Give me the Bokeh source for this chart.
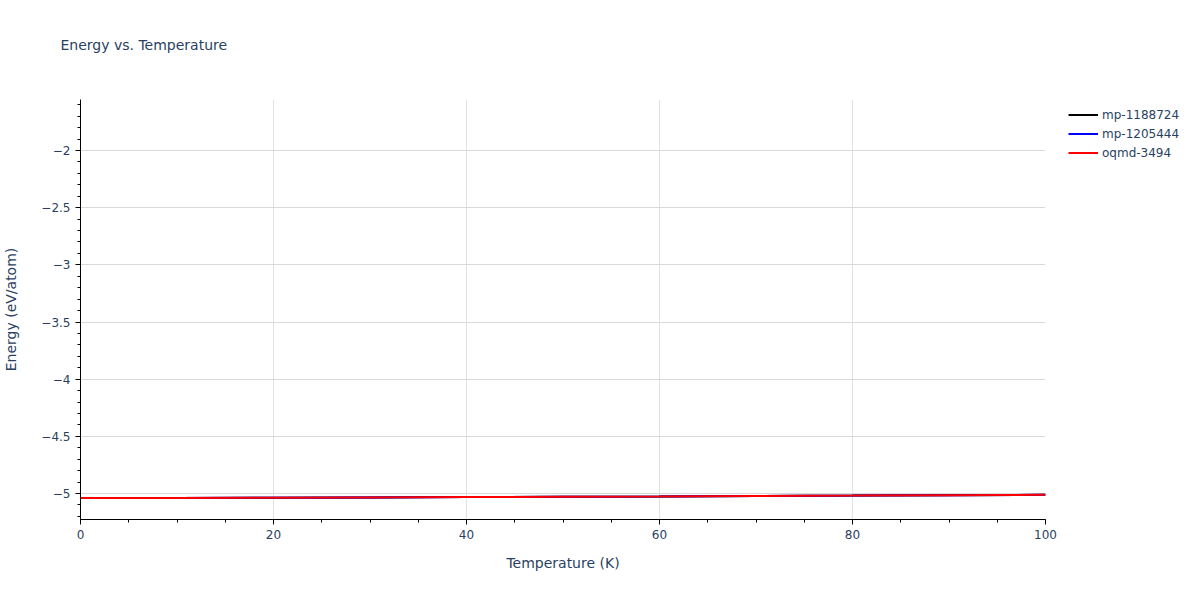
from bokeh.plotting import figure
from bokeh.models import Legend, LegendItem, FixedTicker, Range1d, Title
from bokeh.embed import file_html
from bokeh.resources import INLINE

temperature = [0, 10, 20, 30, 40, 50, 60, 70, 80, 90, 100]
mp_1188724 = [-5.040, -5.039, -5.037, -5.034, -5.031, -5.028, -5.025, -5.021, -5.018, -5.014, -5.011]
mp_1205444 = [-5.040, -5.039, -5.037, -5.034, -5.031, -5.028, -5.025, -5.021, -5.018, -5.014, -5.011]
oqmd_3494 = [-5.040, -5.039, -5.037, -5.034, -5.031, -5.028, -5.025, -5.021, -5.018, -5.014, -5.011]

series_names = ["mp-1188724", "mp-1205444", "oqmd-3494"]
series_colors = ["black", "blue", "red"]
x_ticks = [0, 20, 40, 60, 80, 100]
y_ticks = [-5, -4.5, -4, -3.5, -3, -2.5, -2]

FONT = "DejaVu Sans"
TXT = "#2a3f5f"

p = figure(frame_width=965, frame_height=420, output_backend="svg", toolbar_location=None,
           x_range=Range1d(0, 100), y_range=Range1d(-5.227, -1.554),
           min_border_left=72, min_border_top=99, min_border_bottom=60, min_border_right=147,
           title="Energy vs. Temperature")
p.background_fill_color = "white"
p.border_fill_color = "white"
p.outline_line_color = None

p.title.text_font = FONT
p.title.text_font_size = "14px"
p.title.text_color = TXT
p.title.text_font_style = "normal"
p.title.align = "left"
p.title.offset = -20
p.title.standoff = 0

spacer = Title(text=" ", text_font_size="14px", standoff=29)
p.add_layout(spacer, "above")

for ax in (p.xaxis[0], p.yaxis[0]):
    ax.axis_line_color = "black"
    ax.major_tick_line_color = "black"
    ax.minor_tick_line_color = "black"
    ax.major_tick_out = 5
    ax.major_tick_in = 0
    ax.minor_tick_out = 3
    ax.minor_tick_in = 0
    ax.major_label_text_font = FONT
    ax.major_label_text_font_size = "12px"
    ax.major_label_text_color = TXT
    ax.axis_label_text_font = FONT
    ax.axis_label_text_font_size = "14px"
    ax.axis_label_text_color = TXT
    ax.axis_label_text_font_style = "normal"

p.xaxis.ticker = FixedTicker(ticks=x_ticks, minor_ticks=list(range(0, 101, 5)))
p.yaxis.ticker = FixedTicker(ticks=y_ticks, minor_ticks=[round(-5.2 + 0.1 * i, 1) for i in range(37)])
p.yaxis.major_label_overrides = {t: ("\u2212" + f"{abs(t):g}") for t in y_ticks}
p.xaxis.axis_label = "Temperature (K)"
p.yaxis.axis_label = "Energy (eV/atom)"
p.xaxis.axis_label_standoff = 13
p.yaxis.axis_label_standoff = 19

p.xgrid.ticker = FixedTicker(ticks=[20, 40, 60, 80])
p.ygrid.ticker = FixedTicker(ticks=y_ticks)
p.xgrid.grid_line_color = "#e2e2e2"
p.ygrid.grid_line_color = "#d9d9d9"

items = []
for name, color, ys in zip(series_names, series_colors, [mp_1188724, mp_1205444, oqmd_3494]):
    r = p.line(temperature, ys, line_color=color, line_width=2)
    items.append(LegendItem(label=name, renderers=[r]))

legend = Legend(items=items, location=(23, 357), border_line_color=None,
                background_fill_alpha=0, label_text_font=FONT, label_text_font_size="12px",
                label_text_color=TXT, glyph_width=30, glyph_height=19, label_standoff=4,
                spacing=0, label_height=19, padding=5, margin=10)
p.add_layout(legend, "right")

open("out.html", "w").write(file_html(p, INLINE))
